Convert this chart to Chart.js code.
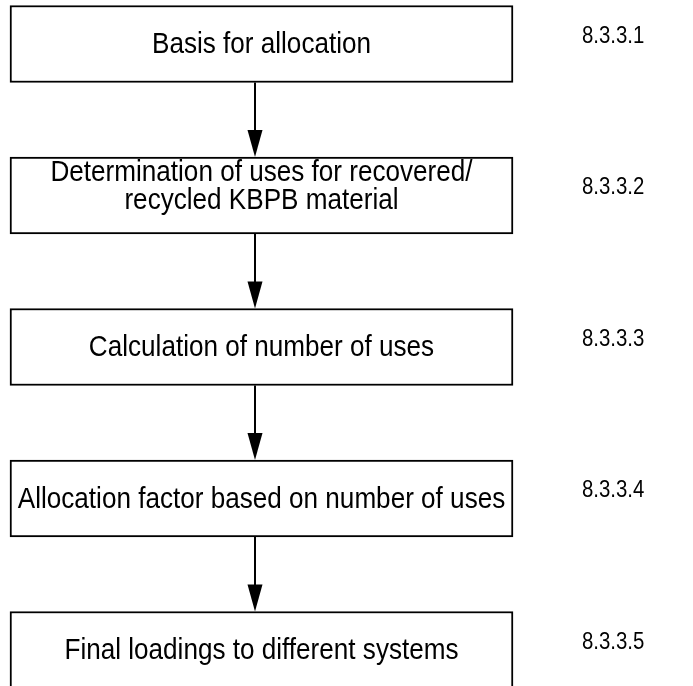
<!DOCTYPE html>
<html>
<head>
<meta charset="utf-8">
<script src="https://cdn.jsdelivr.net/npm/chart.js@4/dist/chart.umd.min.js"></script>
<style>
  body { margin: 0; background: #fff; }
  #wrap { width: 693px; height: 686px; }
</style>
</head>
<body>
<div id="wrap"><canvas id="flowChart" width="693" height="686"></canvas></div>
<script>
// Flow steps (box texts), top to bottom
const steps = [
    'Basis for allocation',
    ['Determination of uses for recovered/', 'recycled KBPB material'],
    'Calculation of number of uses',
    'Allocation factor based on number of uses',
    'Final loadings to different systems'
];
// Section numbers shown to the right of each box
const sections = ['8.3.3.1', '8.3.3.2', '8.3.3.3', '8.3.3.4', '8.3.3.5'];
// Horizontal extent of each box on the x scale (0..1)
const spans = [[0, 1], [0, 1], [0, 1], [0, 1], [0, 1]];
// Where the connecting arrows run on the x scale
const arrowAt = 0.488;

const FAMILY = '"Liberation Sans", Arial, Helvetica, sans-serif';

// condensed text helper
function drawText(ctx, txt, x, y, sx) {
    ctx.save();
    ctx.translate(x, y);
    ctx.scale(sx, 1);
    ctx.fillText(txt, 0, 0);
    ctx.restore();
}

// Draw box texts, section numbers and the arrows between boxes
const flowPlugin = {
    id: 'flow',
    afterDatasetsDraw(chart) {
        const ctx = chart.ctx;
        const bars = chart.getDatasetMeta(0).data;
        const xScale = chart.scales.x;
        const ax = Math.round(xScale.getPixelForValue(arrowAt));
        const area = chart.chartArea;

        ctx.save();
        ctx.fillStyle = '#000';
        ctx.strokeStyle = '#000';
        ctx.lineWidth = 2;

        // arrows
        for (let i = 0; i < bars.length - 1; i++) {
            const a = bars[i].getProps(['y', 'height'], true);
            const b = bars[i + 1].getProps(['y', 'height'], true);
            const y0 = a.y + a.height / 2;
            const y1 = b.y - b.height / 2;
            const headH = 27, headW = 15;
            ctx.beginPath();
            ctx.moveTo(ax, y0);
            ctx.lineTo(ax, y1 - headH + 2);
            ctx.stroke();
            ctx.beginPath();
            ctx.moveTo(ax - headW / 2, y1 - headH);
            ctx.lineTo(ax + headW / 2, y1 - headH);
            ctx.lineTo(ax, y1);
            ctx.closePath();
            ctx.fill();
        }

        ctx.textBaseline = 'middle';

        // box texts
        ctx.font = '29px ' + FAMILY;
        ctx.textAlign = 'center';
        bars.forEach((bar, i) => {
            const p = bar.getProps(['x', 'y', 'base'], true);
            const cx = (p.x + p.base) / 2;
            const lines = [].concat(chart.data.labels[i]);
            const lh = 28;
            const shift = lines.length > 1 ? -10 : 0;
            const top = p.y + shift - (lines.length - 1) * lh / 2;
            lines.forEach((ln, k) => drawText(ctx, ln, cx, top + k * lh + 1, 0.9));
        });

        // section numbers
        ctx.font = '24px ' + FAMILY;
        ctx.textAlign = 'left';
        bars.forEach((bar, i) => {
            const p = bar.getProps(['y'], true);
            drawText(ctx, sections[i], area.right + 69, p.y - 8, 0.85);
        });
        ctx.restore();
    }
};

new Chart(document.getElementById('flowChart').getContext('2d'), {
    type: 'bar',
    data: {
        labels: steps,
        datasets: [{
            data: spans,
            backgroundColor: '#fff',
            borderColor: '#000',
            borderWidth: 2,
            borderSkipped: false,
            barThickness: 77,
            clip: false
        }]
    },
    options: {
        indexAxis: 'y',
        responsive: false,
        animation: false,
        devicePixelRatio: 1,
        layout: { padding: { left: 10, right: 180, top: 44, bottom: 36 } },
        plugins: {
            legend: { display: false },
            tooltip: { enabled: false }
        },
        scales: {
            x: { type: 'linear', min: 0, max: 1, display: false },
            y: { type: 'category', offset: false, display: false }
        }
    },
    plugins: [flowPlugin]
});
</script>
</body>
</html>
